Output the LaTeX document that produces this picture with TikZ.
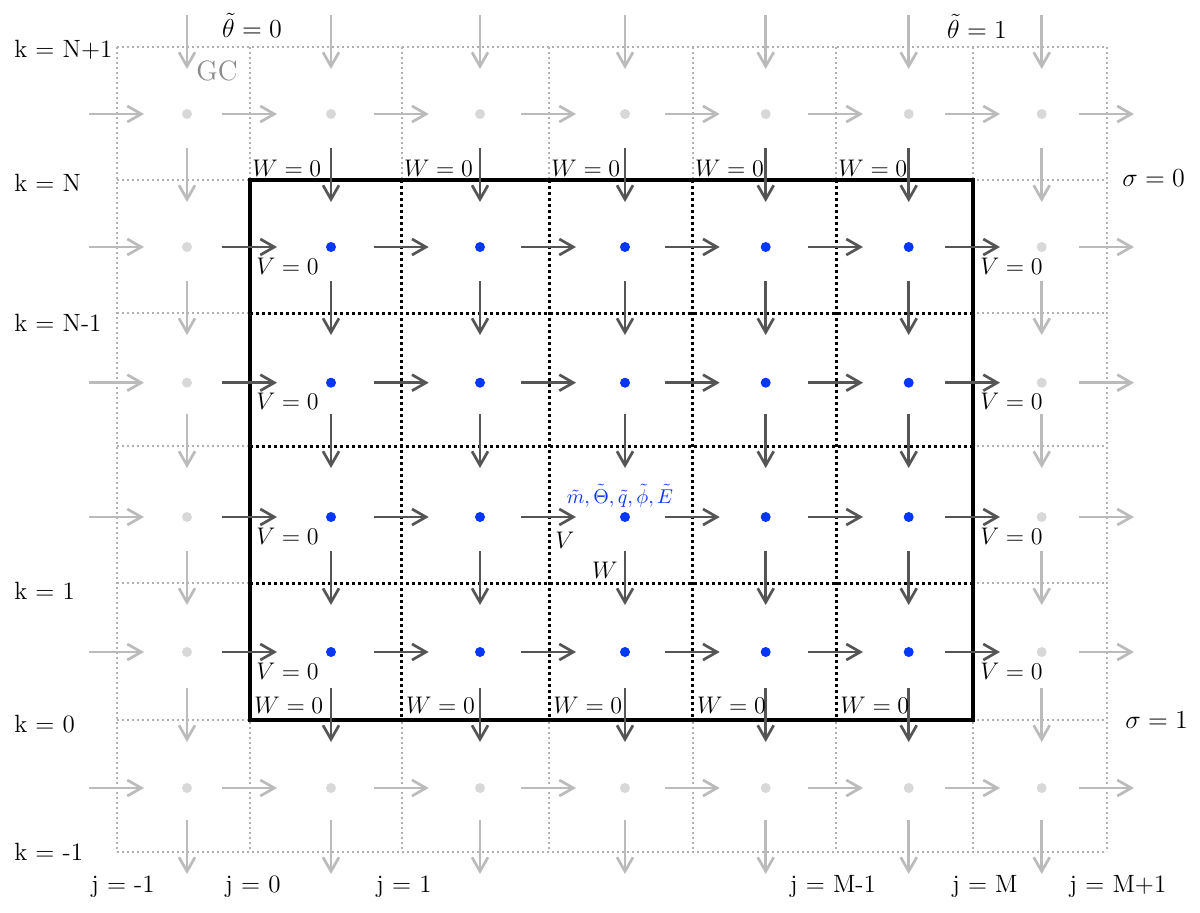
\RequirePackage{fix-cm}
\documentclass[tikz,border=0pt]{standalone}
\usepackage{fontspec}
\usetikzlibrary{arrows.meta}
\definecolor{arrdark}{HTML}{555555}
\definecolor{arrlight}{HTML}{BBBBBB}
\definecolor{ghostdot}{HTML}{D8D8D8}
\definecolor{ghostgrid}{HTML}{B0B0B0}
\definecolor{cellblue}{HTML}{0636F7}
\definecolor{gclabel}{HTML}{8A8A8A}
\begin{document}
\begin{tikzpicture}[x=0.5pt,y=-0.5pt,
  darkarrow/.style={draw=arrdark,line width=1.35pt,-{Straight Barb[length=7pt,width=8pt]}},
  lightarrow/.style={draw=arrlight,line width=1.35pt,-{Straight Barb[length=7pt,width=8pt]}},
  ghostline/.style={draw=ghostgrid,line width=1.2pt,dash pattern=on 1.2pt off 1.3pt},
  innerline/.style={draw=black,line width=1.5pt,dash pattern=on 1.5pt off 1.5pt},
  boxline/.style={draw=black,line width=2pt},
  celldot/.style={circle,fill=cellblue,inner sep=0pt,minimum size=5pt},
  ghostcell/.style={circle,fill=ghostdot,inner sep=0pt,minimum size=5pt},
  lab/.style={inner sep=0pt,font=\fontsize{12}{14}\selectfont},
  biglab/.style={inner sep=0pt,font=\fontsize{13}{15}\selectfont},
  idxlab/.style={inner sep=0pt,font=\fontsize{12.5}{14}\selectfont},
  bluelab/.style={inner sep=0pt,text=cellblue,font=\fontsize{10}{12}\selectfont},
  gclab/.style={inner sep=0pt,text=gclabel,font=\fontsize{14}{16}\selectfont}
]
\useasboundingbox (0,0) rectangle (1200,912);

% grid intersections
\foreach \xx [count=\c from 0] in {117,250,401.7,549,692.7,836,973,1107}{
  \foreach \yy [count=\r from 0] in {47,180,313,446,583,720,852}{
    \coordinate (g-\c-\r) at (\xx,\yy);
  }
}

% ghost grid
\foreach \c in {0,...,7}{\draw[ghostline] (g-\c-0) -- (g-\c-6);}
\foreach \r in {0,...,6}{\draw[ghostline] (g-0-\r) -- (g-7-\r);}
\fill[white] (g-1-1) rectangle (g-6-5);
% inner grid
\foreach \c in {2,...,5}{\draw[innerline] (g-\c-1) -- (g-\c-5);}
\foreach \r in {2,...,4}{\draw[innerline] (g-1-\r) -- (g-6-\r);}
\draw[boxline] (g-1-1) rectangle (g-6-5);

% cell dots
\foreach \xx [count=\c from 0] in {187,331,480,625,765.7,908.7,1041.7}{
  \foreach \yy [count=\r from 0] in {114,247,382.7,517,652,788}{
    \pgfmathtruncatemacro\inn{and(and(\c>0,\c<6),and(\r>0,\r<5))}
    \ifnum\inn=1
      \node[celldot] (d-\c-\r) at (\xx,\yy) {};
    \else
      \node[ghostcell] (d-\c-\r) at (\xx,\yy) {};
    \fi
  }
}

% horizontal arrows (V)
\foreach \yy [count=\r from 0] in {114,247,382.7,517,652,788}{
  \foreach \xx [count=\c from 0] in {117,250,401.7,549,692.7,836,973,1107}{
    \coordinate (ha-\c-\r) at (\xx-28,\yy);
    \coordinate (hb-\c-\r) at (\xx+27,\yy);
    \pgfmathtruncatemacro\inn{and(and(\c>0,\c<7),and(\r>0,\r<5))}
    \ifnum\inn=1
      \draw[darkarrow] (ha-\c-\r) -- (hb-\c-\r);
    \else
      \draw[lightarrow] (ha-\c-\r) -- (hb-\c-\r);
    \fi
  }
}

% vertical arrows (W)
\foreach \xx [count=\c from 0] in {187,331,480,625,765.7,908.7,1041.7}{
  \foreach \yy [count=\r from 0] in {47,180,313,446,583,720,852}{
    \coordinate (va-\c-\r) at (\xx,\yy-32);
    \coordinate (vb-\c-\r) at (\xx,\yy+22);
    \pgfmathtruncatemacro\inn{and(and(\c>0,\c<6),and(\r>0,\r<6))}
    \ifnum\inn=1
      \draw[darkarrow] (va-\c-\r) -- (vb-\c-\r);
    \else
      \draw[lightarrow] (va-\c-\r) -- (vb-\c-\r);
    \fi
  }
}

% boundary labels
\foreach \c in {1,...,5}{
  \node[lab,anchor=base west] (wt-\c) at ([shift={(2,-4)}]g-\c-1) {$W=0$};
  \node[lab,anchor=base west] (wb-\c) at ([shift={(4,-7)}]g-\c-5) {$W=0$};
}
\foreach \yy [count=\r] in {247,382.7,517,652}{
  \node[lab,anchor=base west] (vl-\r) at (256,\yy+27) {$V=0$};
  \node[lab,anchor=base west] (vr-\r) at (980,\yy+27) {$V=0$};
}

% central labels
\node[lab,anchor=base west] (vlab) at (555,548) {$V$};
\node[lab,anchor=base east] (wlab) at (618,578) {$W$};
\node[bluelab,anchor=base] (vars) at (620,503) {$\tilde m,\tilde\Theta,\tilde q,\tilde\phi,\tilde E$};

% theta / sigma labels
\node[biglab,anchor=base] (th0) at (252,37) {$\tilde\theta=0$};
\node[biglab,anchor=base] (th1) at (977,38) {$\tilde\theta=1$};
\node[biglab,anchor=base west] (sg0) at (1122,186) {$\sigma=0$};
\node[biglab,anchor=base west] (sg1) at (1125,728) {$\sigma=1$};
\node[gclab,anchor=base west] (gc) at (196,80) {GC};

% k labels
\node[idxlab,anchor=base west] (k1) at (14,57) {k = N+1};
\node[idxlab,anchor=base west] (k2) at (14,191) {k = N};
\node[idxlab,anchor=base west] (k3) at (14,331) {k = N-1};
\node[idxlab,anchor=base west] (k4) at (14,599) {k = 1};
\node[idxlab,anchor=base west] (k5) at (14,732) {k = 0};
\node[idxlab,anchor=base west] (k6) at (14,860) {k = -1};

% j labels
\node[idxlab,anchor=base] (j1) at (123,892) {j = -1};
\node[idxlab,anchor=base] (j2) at (253,892) {j = 0};
\node[idxlab,anchor=base] (j3) at (404,892) {j = 1};
\node[idxlab,anchor=base] (j4) at (833,892) {j = M-1};
\node[idxlab,anchor=base] (j5) at (985,892) {j = M};
\node[idxlab,anchor=base] (j6) at (1118,892) {j = M+1};
\end{tikzpicture}
\end{document}
